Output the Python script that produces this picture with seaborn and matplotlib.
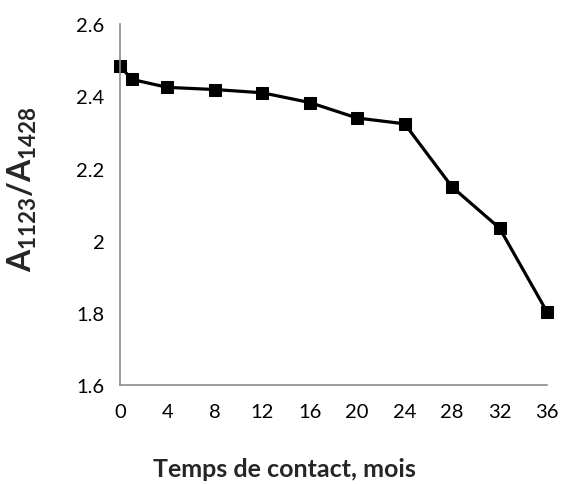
import matplotlib
matplotlib.use("Agg")
import matplotlib.pyplot as plt
import seaborn as sns
import pandas as pd

# values
months = [0, 1, 4, 8, 12, 16, 20, 24, 28, 32, 36]
ratio = [2.484, 2.447, 2.425, 2.419, 2.410, 2.383, 2.340, 2.324, 2.149, 2.035, 1.803]
y_ticks = [1.6, 1.8, 2.0, 2.2, 2.4, 2.6]
y_labels = ["1.6", "1.8", "2", "2.2", "2.4", "2.6"]
x_ticks = [0, 4, 8, 12, 16, 20, 24, 28, 32, 36]

df = pd.DataFrame({"mois": months, "ratio": ratio})

sns.set_style("white")
plt.rcParams["font.family"] = ["Lato", "DejaVu Sans"]
plt.rcParams["mathtext.fontset"] = "custom"
plt.rcParams["mathtext.rm"] = "Lato:bold"
plt.rcParams["mathtext.it"] = "Lato:bold"
plt.rcParams["mathtext.bf"] = "Lato:bold"

fig = plt.figure(figsize=(5.64, 4.85), dpi=100)
ax = fig.add_axes([0.2128, 0.204, 0.757, 0.744])

sns.lineplot(data=df, x="mois", y="ratio", ax=ax, color="black", linewidth=2.3,
             marker="s", markersize=8, markeredgecolor="black", clip_on=False)

ax.set_xlim(0, 36)
ax.set_ylim(1.6, 2.6)
ax.set_xticks(x_ticks)
ax.set_yticks(y_ticks)
ax.set_yticklabels(y_labels)

for side in ["top", "right"]:
    ax.spines[side].set_visible(False)
for side in ["left", "bottom"]:
    ax.spines[side].set_color("#8c8c8c")
    ax.spines[side].set_linewidth(1.2)

ax.tick_params(axis="both", direction="out", length=5, width=1.2, color="#8c8c8c",
               labelsize=14.5, labelcolor="black", pad=6)
ax.tick_params(axis="x", pad=8)

ax.set_xlabel("Temps de contact, mois", fontsize=18, fontweight="bold")
ax.xaxis.set_label_coords(0.384, -0.2)
ax.set_ylabel(r"$A_{1123}/A_{1428}$", fontsize=23)
ax.yaxis.set_label_coords(-0.19, 0.545)

fig.savefig("out.png", dpi=100)
